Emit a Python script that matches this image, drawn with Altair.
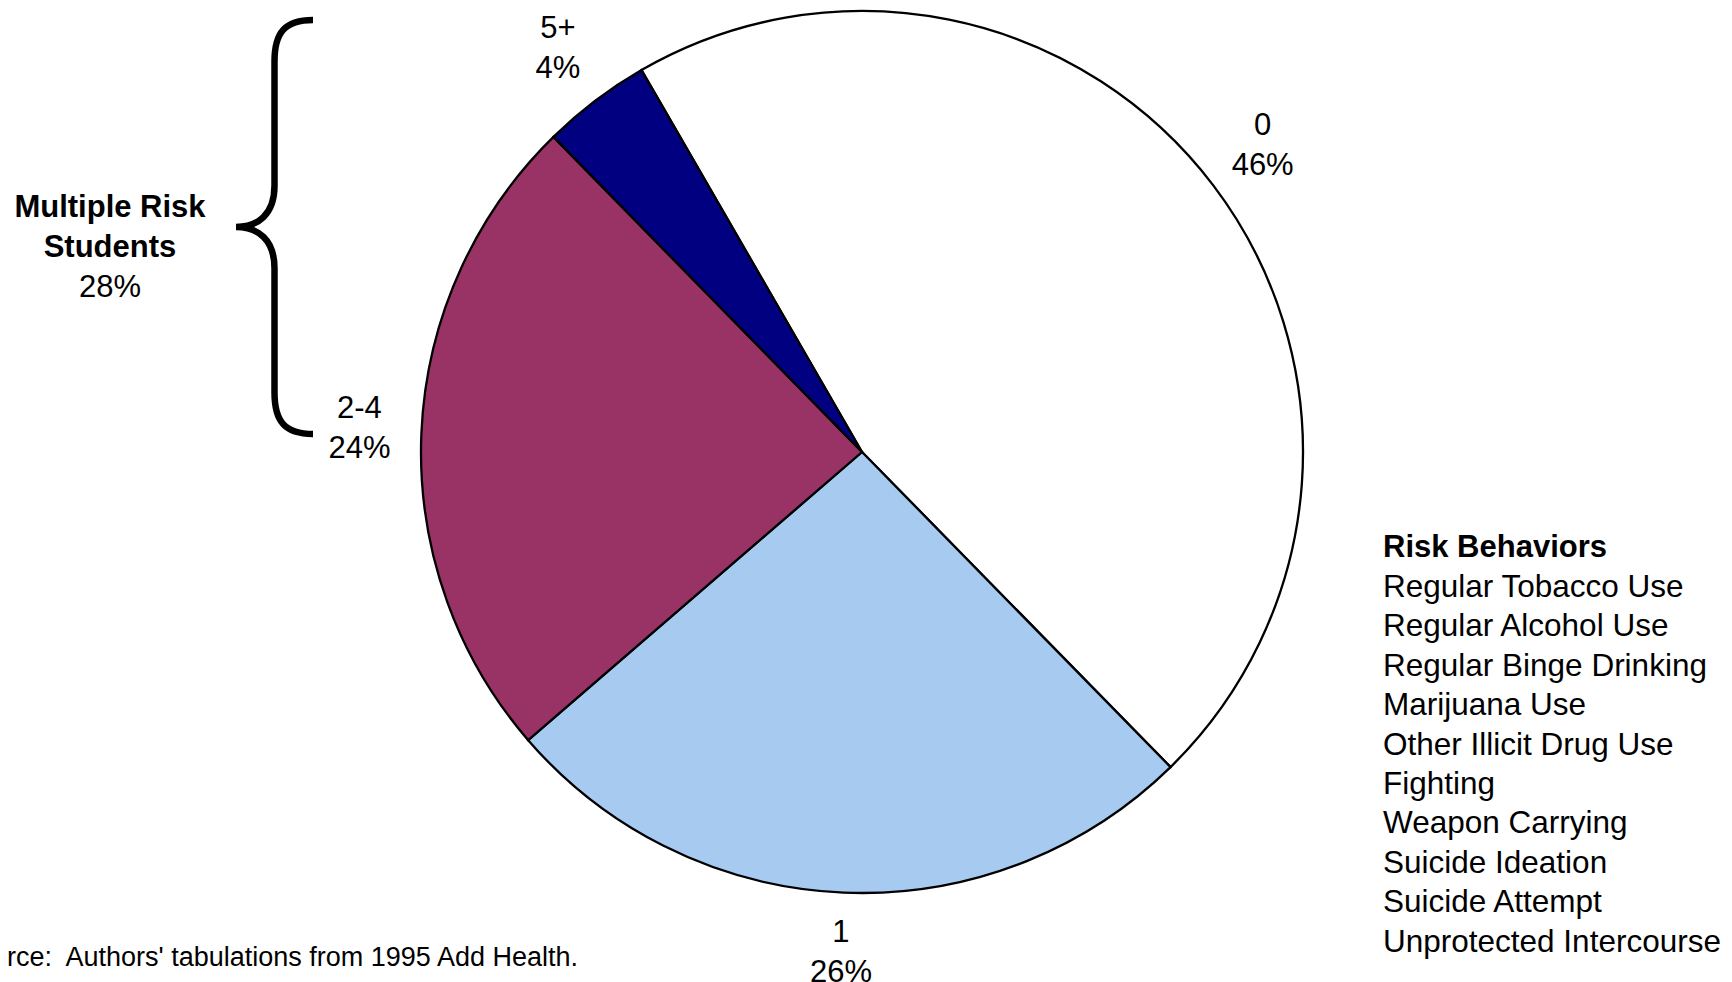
import math
import altair as alt
import pandas as pd

# ---- data ----
categories = ["0", "1", "2-4", "5+"]
percents = [46, 26, 24, 4]
slice_colors = ["#FFFFFF", "#A6CAF0", "#993366", "#000080"]

group_title = ["Multiple Risk", "Students"]
group_value = "28%"

legend_title = "Risk Behaviors"
behaviors = [
    "Regular Tobacco Use",
    "Regular Alcohol Use",
    "Regular Binge Drinking",
    "Marijuana Use",
    "Other Illicit Drug Use",
    "Fighting",
    "Weapon Carrying",
    "Suicide Ideation",
    "Suicide Attempt",
    "Unprotected Intercourse",
]
source_note = "Source:\u00a0 Authors' tabulations from 1995 Add Health."

FONT = "Liberation Sans"
W, H = 1716, 974
CX, CY, R = 854, 444, 441

df = pd.DataFrame({
    "cat": categories,
    "value": percents,
    "order": list(range(len(categories))),
    "label": [f"{c}\n{p}%" for c, p in zip(categories, percents)],
})

start = -math.pi / 6
theta = alt.Theta("value:Q", stack=True,
                  scale=alt.Scale(range=[start, start + 2 * math.pi]))

base = alt.Chart(df)

pie = base.mark_arc(x=CX, y=CY, outerRadius=R, stroke="black",
                    strokeWidth=2.3).encode(
    theta=theta,
    color=alt.Color("cat:N", scale=alt.Scale(domain=categories, range=slice_colors),
                    legend=None),
    order=alt.Order("order:Q"),
)

labels = base.mark_text(x=CX, y=CY, radius=503, dy=-22, font=FONT, fontSize=31,
                        lineBreak="\n", lineHeight=40, color="black",
                        baseline="middle", align="center").encode(
    theta=theta,
    text="label:N",
    order=alt.Order("order:Q"),
)

one = alt.Chart(pd.DataFrame({"a": [0]}))

group_txt = one.mark_text(font=FONT, fontSize=31, fontWeight="bold",
                          lineBreak="\n", lineHeight=40, align="center",
                          baseline="middle", text="\n".join(group_title)).encode(
    x=alt.value(102), y=alt.value(200))
group_pct = one.mark_text(font=FONT, fontSize=31, align="center",
                          baseline="middle", text=group_value).encode(
    x=alt.value(102), y=alt.value(280))

brace_path = ("M 0.186 -1 C 0.05 -1 0 -0.94 0 -0.8 L 0 -0.2 "
              "C 0 -0.06 -0.08 0 -0.186 0 C -0.08 0 0 0.06 0 0.2 "
              "L 0 0.8 C 0 0.94 0.05 1 0.186 1")
brace = one.mark_point(shape=brace_path, filled=False, stroke="black",
                       strokeWidth=6.5, size=414 * 414, opacity=1).encode(
    x=alt.value(266.5), y=alt.value(219))

leg_title = one.mark_text(font=FONT, fontSize=31, fontWeight="bold", align="left",
                          baseline="middle", text=legend_title).encode(
    x=alt.value(1375), y=alt.value(540))
leg_items = one.mark_text(font=FONT, fontSize=31.5, align="left", baseline="top",
                          lineBreak="\n", lineHeight=39.4,
                          text="\n".join(behaviors)).encode(
    x=alt.value(1375), y=alt.value(564))

source = one.mark_text(font=FONT, fontSize=27, align="right", baseline="middle",
                       text=source_note).encode(
    x=alt.value(570), y=alt.value(950))

chart = alt.layer(pie, labels, brace, group_txt, group_pct, leg_title, leg_items,
                  source).properties(
    width=W, height=H, padding=0, background="white",
    autosize=alt.AutoSizeParams(type="none"),
).configure_view(stroke=None)

chart.save("out.html", embed_options={"renderer": "svg", "actions": False})
